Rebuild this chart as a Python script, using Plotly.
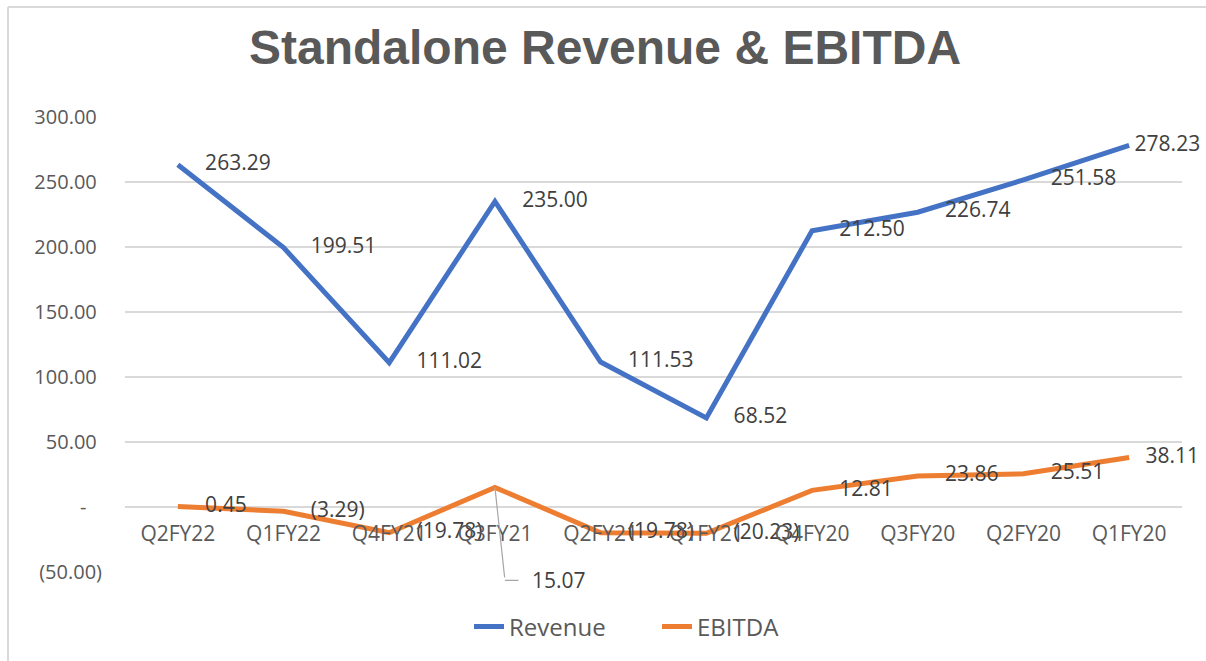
import plotly.graph_objects as go

categories = ["Q2FY22", "Q1FY22", "Q4FY21", "Q3FY21", "Q2FY21",
              "Q1FY21", "Q4FY20", "Q3FY20", "Q2FY20", "Q1FY20"]
revenue = [263.29, 199.51, 111.02, 235.00, 111.53, 68.52, 212.50, 226.74, 251.58, 278.23]
ebitda = [0.45, -3.29, -19.78, 15.07, -19.78, -20.23, 12.81, 23.86, 25.51, 38.11]
y_ticks = [-50, 0, 50, 100, 150, 200, 250, 300]


def fmt(v):
    return f"({abs(v):.2f})" if v < 0 else f"{v:.2f}"


def tick_fmt(v):
    if v == 0:
        return "-" + "\u00a0" * 3
    return fmt(v) if v < 0 else fmt(v) + "\u00a0"


def label(v, i, last_pad):
    # gap between point and label; the last labels are pulled in to stay inside the chart
    n = last_pad if i == len(categories) - 1 else 5
    return "\u00a0" * n + fmt(v)


BLUE = "#4472C4"
ORANGE = "#ED7D31"
GRID = "#D9D9D9"
AX = "#595959"
LBL = "#404040"
FONT = "Open Sans"

callout_idx = 3  # EBITDA label drawn with a leader line
revenue_text = [label(v, i, 1) for i, v in enumerate(revenue)]
ebitda_text = ["" if i == callout_idx else label(v, i, 3) for i, v in enumerate(ebitda)]

fig = go.Figure()
fig.add_trace(go.Scatter(
    x=categories, y=revenue, name="Revenue", mode="lines+text",
    line=dict(color=BLUE, width=5),
    text=revenue_text, textposition="middle right",
    textfont=dict(family=FONT, size=21, color=LBL),
    cliponaxis=False,
))
fig.add_trace(go.Scatter(
    x=categories, y=ebitda, name="EBITDA", mode="lines+text",
    line=dict(color=ORANGE, width=5),
    text=ebitda_text, textposition="middle right",
    textfont=dict(family=FONT, size=21, color=LBL),
    cliponaxis=False,
))

# leader line for the 15.07 label
fig.add_annotation(x=categories[callout_idx], y=ebitda[callout_idx], text="\u200b",
                   showarrow=True, arrowhead=0, arrowwidth=1.2, arrowcolor="#A6A6A6",
                   ax=10, ay=93, standoff=0, font=dict(size=2))
fig.add_annotation(x=categories[callout_idx], y=ebitda[callout_idx], text=fmt(ebitda[callout_idx]),
                   xshift=10, yshift=-93,
                   showarrow=True, arrowhead=0, arrowwidth=1.2, arrowcolor="#A6A6A6",
                   ax=54, ay=0, standoff=0, startstandoff=12,
                   font=dict(family=FONT, size=21, color=LBL))

# outer frame (left & top edges)
fig.add_shape(type="line", xref="paper", yref="paper",
              x0=(8 - 125) / 1057, x1=(8 - 125) / 1057, y0=-89 / 455, y1=(572 - 7) / 455,
              line=dict(color=GRID, width=2))
fig.add_shape(type="line", xref="paper", yref="paper",
              x0=(8 - 125) / 1057, x1=(1206 - 125) / 1057, y0=(572 - 7) / 455, y1=(572 - 7) / 455,
              line=dict(color=GRID, width=2))

fig.update_layout(
    width=1206, height=661,
    margin=dict(l=125, r=24, t=117, b=89),
    paper_bgcolor="white", plot_bgcolor="white",
    title=dict(text="Standalone Revenue & EBITDA", x=605 / 1206, xanchor="center",
               y=1 - 47 / 661, yanchor="middle",
               font=dict(family="Liberation Sans", size=48, color=AX, weight="bold")),
    showlegend=True,
    legend=dict(orientation="h", x=(469 - 125) / 1057, xanchor="left",
                y=(572 - 627) / 455, yanchor="middle",
                entrywidth=143, entrywidthmode="pixels",
                font=dict(family=FONT, size=24, color=AX)),
    xaxis=dict(type="category", range=[-0.5, len(categories) - 0.5],
               showgrid=False, showline=False, zeroline=False, ticks="",
               anchor="free", position=(0 - y_ticks[0]) / (y_ticks[-1] - y_ticks[0]),
               ticklabelstandoff=12,
               tickfont=dict(family=FONT, size=21, color=AX)),
    yaxis=dict(range=[y_ticks[0], y_ticks[-1]], tickvals=y_ticks,
               ticktext=[tick_fmt(v) for v in y_ticks],
               showgrid=True, gridcolor=GRID, gridwidth=1.5, zeroline=False,
               showline=False, ticks="", ticklabelstandoff=22,
               tickfont=dict(family=FONT, size=20, color=AX)),
)

fig.write_html("out.html")
